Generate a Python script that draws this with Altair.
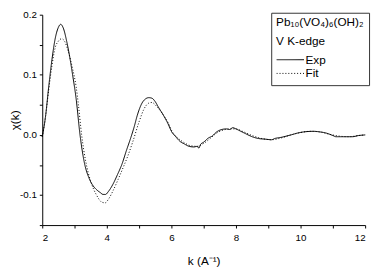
import altair as alt
import pandas as pd

k_exp = [2.00, 2.10, 2.20, 2.30, 2.40, 2.50, 2.57, 2.65, 2.76, 2.85,
         2.94, 3.05, 3.17, 3.30, 3.45, 3.58, 3.70, 3.80, 3.88, 3.96,
         4.05, 4.18, 4.33, 4.48, 4.60, 4.74, 4.85, 4.94, 5.09, 5.20,
         5.30, 5.40, 5.49, 5.60, 5.75, 5.90, 6.00, 6.15, 6.25, 6.40,
         6.55, 6.70, 6.80, 6.85, 6.90, 7.00, 7.15, 7.26, 7.40, 7.56,
         7.70, 7.80, 7.90, 8.00, 8.15, 8.30, 8.50, 8.70, 8.90, 9.10,
         9.20, 9.40, 9.70, 9.90, 10.10, 10.40, 10.60, 10.80, 11.00, 11.10,
         11.30, 11.60, 11.80, 12.00]
chi_exp = [-0.003, 0.03, 0.08, 0.125, 0.16, 0.179, 0.184, 0.178, 0.155, 0.13,
           0.10, 0.06, 0.0, -0.045, -0.072, -0.085, -0.092, -0.096, -0.099, -0.099,
           -0.094, -0.083, -0.066, -0.047, -0.027, -0.005, 0.014, 0.032, 0.053, 0.06,
           0.062, 0.061, 0.056, 0.046, 0.033, 0.018, 0.006, -0.004, -0.01, -0.015,
           -0.019, -0.02, -0.019, -0.022, -0.016, -0.012, -0.005, -0.002, 0.005, 0.009,
           0.010, 0.009, 0.012, 0.010, 0.006, 0.002, -0.003, -0.006, -0.007, -0.008,
           -0.006, -0.004, 0.0, 0.003, 0.005, 0.006, 0.005, 0.003, -0.001, -0.003,
           -0.003, -0.003, -0.001, 0.0]

k_fit = [2.00, 2.10, 2.20, 2.30, 2.40, 2.50, 2.60, 2.70, 2.80,
         2.94, 3.05, 3.12, 3.22, 3.35, 3.50, 3.68, 3.85, 3.95, 4.05,
         4.20, 4.35, 4.50, 4.65, 4.80, 5.00, 5.15, 5.30, 5.40, 5.50,
         5.60, 5.75, 5.90, 6.00, 6.20,
         6.40, 6.60, 6.80, 7.00, 7.20, 7.40, 7.60, 7.80, 8.00, 8.20,
         8.50, 8.80, 9.10, 9.40, 9.70, 10.00, 10.30, 10.60, 10.90, 11.20,
         11.50, 11.80, 12.00]
chi_fit = [-0.003, 0.03, 0.075, 0.115, 0.145, 0.156, 0.16, 0.155, 0.14,
           0.11, 0.08, 0.05, 0.0, -0.045, -0.077, -0.1, -0.112, -0.113, -0.107,
           -0.092, -0.074, -0.055, -0.035, -0.012, 0.022, 0.043, 0.053, 0.054, 0.050,
           0.044, 0.033, 0.02, 0.008, -0.005,
           -0.013, -0.018, -0.019, -0.014, -0.006, 0.003, 0.008, 0.010, 0.010, 0.006,
           -0.001, -0.006, -0.008, -0.005, 0.0, 0.004, 0.006, 0.005, 0.001, -0.002,
           -0.003, -0.001, 0.0]

series_names = ["Exp", "Fit"]
legend_title = ["Pb\u2081\u2080(VO\u2084)\u2086(OH)\u2082", "V K-edge"]
x_ticks = list(range(2, 13))
y_ticks = [-0.15, -0.1, -0.05, 0.0, 0.05, 0.1, 0.15, 0.2]

df = pd.concat([
    pd.DataFrame({"k": k_exp, "chi": chi_exp, "series": series_names[0]}),
    pd.DataFrame({"k": k_fit, "chi": chi_fit, "series": series_names[1]}),
])

FONT = "Liberation Sans"
H = 215

chart = alt.Chart(df).mark_line(color="black", strokeWidth=1, interpolate="monotone").encode(
    x=alt.X("k:Q", scale=alt.Scale(domain=[2, 12], nice=False),
            axis=alt.Axis(title="k (A\u207b\u00b9)", values=x_ticks,
                          labelExpr="datum.value % 2 == 0 ? format(datum.value, 'd') : ''",
                          labelPadding=5,
                          titleX=165, titleY=36, titleBaseline="middle")),
    y=alt.Y("chi:Q", scale=alt.Scale(domain=[-0.15, 0.2], nice=False, zero=False),
            axis=alt.Axis(title="\u03c7(k)", values=y_ticks,
                          labelExpr="abs(round(datum.value*100)) % 10 == 0 ? ((datum.value < -0.001 ? '-' : '') + format(abs(datum.value), '.1f')) : ''",
                          titleX=-28, titleY=H / 2, titleBaseline="middle", titleAngle=270)),
    strokeDash=alt.StrokeDash("series:N",
                              scale=alt.Scale(domain=series_names, range=[[1, 0], [1, 2]]),
                              legend=alt.Legend(title=legend_title, orient="none",
                                                legendX=234, legendY=-2,
                                                strokeColor="#333333", padding=5,
                                                symbolType="stroke", symbolSize=784,
                                                symbolStrokeWidth=1, symbolStrokeColor="black",
                                                titleFontSize=12, labelFontSize=12,
                                                titleFontWeight="normal", titleFont=FONT,
                                                labelFont=FONT, titleColor="black",
                                                labelColor="black", titlePadding=5,
                                                titleLineHeight=19, clipHeight=14,
                                                rowPadding=0, labelOffset=1)),
    order="k:Q",
).properties(
    width=330, height=H,
    autosize=alt.AutoSizeParams(type="none"),
    padding={"left": 35, "top": 4, "right": 7, "bottom": 41},
).configure_view(stroke=None).configure_axis(
    grid=False, domainColor="black", tickColor="black", domainWidth=1,
    tickSize=3, labelFont=FONT, labelFontSize=10, labelColor="black",
    titleFont=FONT, titleFontSize=12, titleFontWeight="normal", titleColor="black",
    labelPadding=3, titleAlign="center",
)

chart.save("out.html", embed_options={"renderer": "svg", "actions": False})
